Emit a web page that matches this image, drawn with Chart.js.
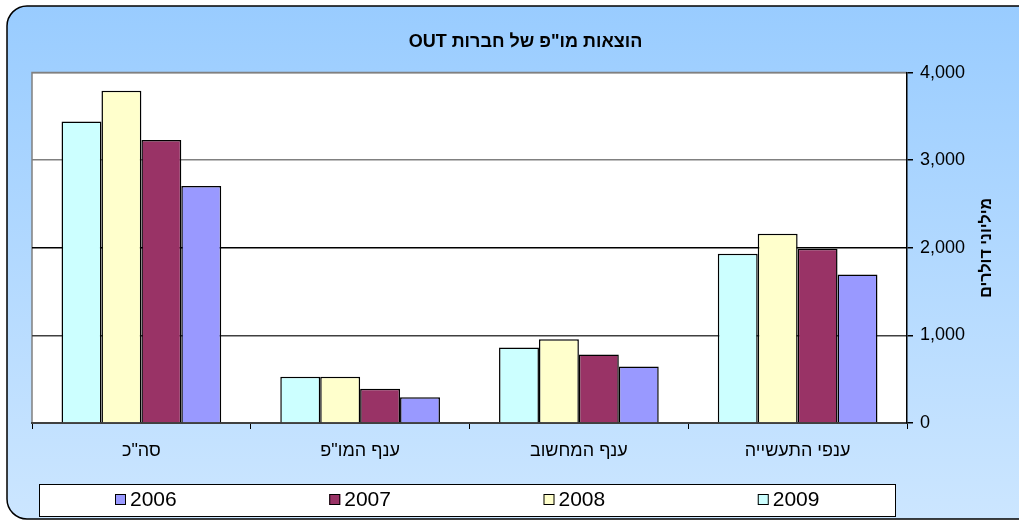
<!DOCTYPE html>
<html>
<head>
<meta charset="utf-8">
<title>OUT R&D</title>
<script src="https://cdn.jsdelivr.net/npm/chart.js@4.4.1/dist/chart.umd.min.js"></script>
<style>
    html, body { margin: 0; padding: 0; background: #fff; }
    #wrap { width: 1019px; height: 521px; position: relative; }
</style>
</head>
<body>
<div id="wrap"><canvas id="rdChart" dir="rtl"></canvas></div>
<script>
// Datos (millones de dólares)
const categories = ['סה"כ', 'ענף המו"פ', 'ענף המחשוב', 'ענפי התעשייה'];
const years = ['2009', '2008', '2007', '2006'];
const values2009 = [3443, 529, 862, 1931];
const values2008 = [3794, 529, 957, 2160];
const values2007 = [3231, 391, 782, 1988];
const values2006 = [2705, 295, 644, 1695];
const yMin = 0;
const yMax = 4000;
const yStep = 1000;

const chartTitle = 'הוצאות מו"פ של חברות OUT';
const yTitle = 'מיליוני דולרים';

(function () {
    const colors = {
        '2009': '#CCFFFF',
        '2008': '#FFFFCC',
        '2007': '#993366',
        '2006': '#9999FF'
    };
    const seriesValues = [values2009, values2008, values2007, values2006];
    const fontFamily = 'Arial, "Liberation Sans", sans-serif';

    // fondo, marco redondeado, área blanca, título del eje y leyenda
    const framePlugin = {
        id: 'frame',
        beforeDraw(chart) {
            const ctx = chart.ctx;
            const area = chart.chartArea;
            ctx.save();
            const grad = ctx.createLinearGradient(0, 6, 0, chart.height);
            grad.addColorStop(0, '#99CCFF');
            grad.addColorStop(1, '#CCE6FF');
            ctx.beginPath();
            ctx.roundRect(7, 6, 1060, 513, 20);
            ctx.fillStyle = grad;
            ctx.fill();
            ctx.lineWidth = 1.5;
            ctx.strokeStyle = '#000';
            ctx.stroke();

            ctx.fillStyle = '#fff';
            ctx.fillRect(area.left, area.top, area.right - area.left, area.bottom - area.top);
            ctx.strokeStyle = '#808080';
            ctx.lineWidth = 1.5;
            ctx.beginPath();
            ctx.moveTo(area.left, area.bottom);
            ctx.lineTo(area.left, area.top);
            ctx.lineTo(area.right, area.top);
            ctx.stroke();
            ctx.restore();
        },
        afterDraw(chart) {
            const ctx = chart.ctx;
            const area = chart.chartArea;
            ctx.save();
            // título vertical del eje
            ctx.translate(987, (area.top + area.bottom) / 2);
            ctx.rotate(-Math.PI / 2);
            ctx.font = 'bold 16px ' + fontFamily;
            ctx.fillStyle = '#000';
            ctx.textAlign = 'center';
            ctx.textBaseline = 'middle';
            ctx.fillText(yTitle, 0, 0);
            ctx.restore();

            // leyenda en recuadro
            ctx.save();
            const boxX = 39, boxY = 484, boxW = 857, boxH = 33;
            ctx.fillStyle = '#fff';
            ctx.fillRect(boxX, boxY, boxW, boxH);
            ctx.strokeStyle = '#000';
            ctx.lineWidth = 1;
            ctx.strokeRect(boxX + 0.5, boxY + 0.5, boxW - 1, boxH - 1);
            const order = years.slice().reverse();
            const slot = boxW / order.length;
            ctx.font = '21px ' + fontFamily;
            ctx.textAlign = 'left';
            ctx.textBaseline = 'alphabetic';
            order.forEach((year, i) => {
                const x = boxX + 76 + i * slot;
                ctx.fillStyle = colors[year];
                ctx.fillRect(x, 494, 11, 11);
                ctx.strokeStyle = '#000';
                ctx.strokeRect(x + 0.5, 494.5, 10, 10);
                ctx.fillStyle = '#000';
                ctx.fillText(year, x + 15, 506);
            });
            ctx.restore();
        }
    };

    const gridColor = (c) => {
        const v = c.tick ? c.tick.value : 0;
        if (v >= 3000) return '#808080';
        if (v === 1000) return '#404040';
        return '#000';
    };

    const ctx = document.getElementById('rdChart').getContext('2d');

    new Chart(ctx, {
        type: 'bar',
        data: {
            labels: categories,
            datasets: years.map((year, i) => ({
                label: year,
                data: seriesValues[i],
                backgroundColor: colors[year],
                borderColor: '#000',
                borderWidth: 1.5,
                categoryPercentage: 0.73,
                barPercentage: 1
            }))
        },
        options: {
            responsive: true,
            maintainAspectRatio: false,
            animation: false,
            layout: {
                padding: { left: 32, right: 0, top: 0, bottom: 0 }
            },
            plugins: {
                legend: { display: false },
                tooltip: { enabled: false },
                title: {
                    display: true,
                    text: chartTitle,
                    color: '#000',
                    font: { family: fontFamily, size: 18, weight: 'bold' },
                    padding: { top: 31, bottom: 20 }
                }
            },
            scales: {
                x: {
                    grid: {
                        display: true,
                        drawOnChartArea: false,
                        drawTicks: true,
                        tickLength: 6,
                        color: '#000',
                        offset: true
                    },
                    border: { display: true, color: '#404040', width: 2 },
                    ticks: {
                        color: '#000',
                        font: { family: fontFamily, size: 18 },
                        padding: 11,
                        maxRotation: 0,
                        autoSkip: false
                    },
                    afterFit(scale) {
                        scale.height = 98;
                    }
                },
                y: {
                    position: 'right',
                    min: yMin,
                    max: yMax,
                    grid: {
                        color: gridColor,
                        lineWidth: 1.5,
                        tickColor: '#000',
                        tickLength: 6
                    },
                    border: { display: true, color: '#000', width: 1.5 },
                    ticks: {
                        stepSize: yStep,
                        color: '#000',
                        padding: 7,
                        font: { family: fontFamily, size: 18 },
                        callback: (value) => value.toLocaleString('en-US')
                    },
                    afterFit(scale) {
                        scale.width = 112;
                    }
                }
            }
        },
        plugins: [framePlugin]
    });
})();
</script>
</body>
</html>
